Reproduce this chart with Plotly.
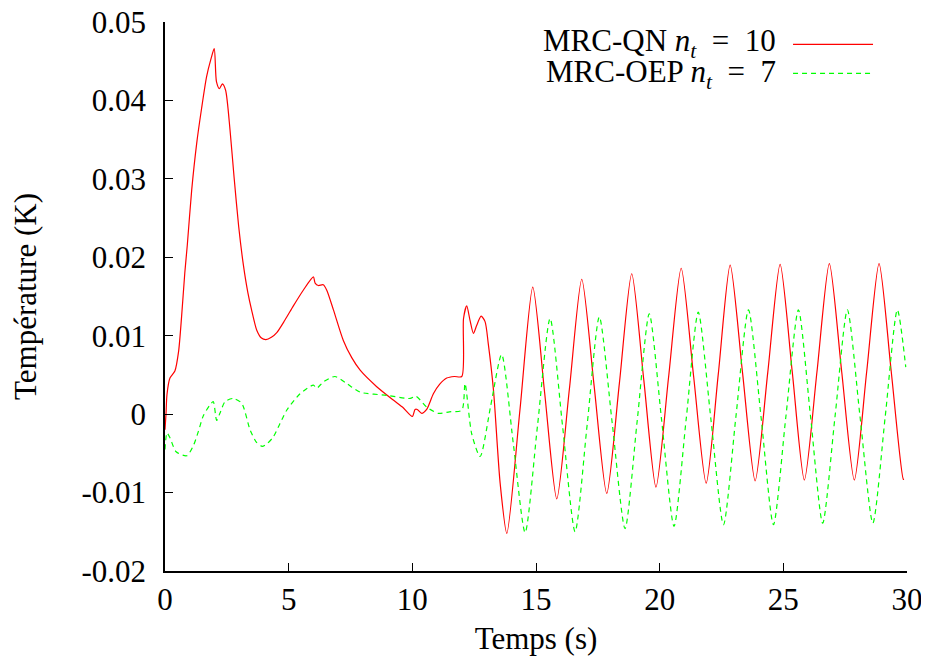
import plotly.graph_objects as go

# ---- data ----
t_qn = [0.0, 0.04, 0.08, 0.2, 0.4, 0.55, 0.67, 0.8, 0.9, 1.08, 1.28, 1.48, 1.68, 1.85, 1.99,
        2.08, 2.2, 2.32, 2.45, 2.63, 2.79, 2.98, 3.17, 3.35, 3.5, 3.71, 3.9, 4.08, 4.3, 4.52,
        4.85, 5.19, 5.59, 6.0, 6.07, 6.2, 6.4, 6.54, 6.81, 7.21, 7.55, 7.89, 8.56, 9.23, 9.6,
        10.0, 10.11, 10.2, 10.38, 10.58, 10.85, 11.1, 11.39, 11.7, 12.0, 12.07, 12.2, 12.33,
        12.47, 12.6, 12.78, 12.94, 13.07, 13.28, 13.55, 13.82,
        14.35, 14.87, 15.35, 15.84, 16.35, 16.85, 17.35, 17.86, 18.37, 18.87, 19.36, 19.85,
        20.36, 20.87, 21.37, 21.88, 22.37, 22.85, 23.35, 23.86, 24.37, 24.87, 25.36, 25.85,
        26.36, 26.86, 27.36, 27.87, 28.37, 28.87, 29.36, 29.85, 29.88]
v_qn = [-0.0020, 0.0000, 0.0025, 0.0046, 0.0055, 0.0080, 0.0124, 0.0180, 0.0215, 0.0286, 0.0345,
        0.0390, 0.0430, 0.0452, 0.0466,
        0.0424, 0.0415, 0.0421, 0.0413, 0.0362, 0.0303, 0.0239, 0.0190, 0.0155, 0.0133, 0.0107,
        0.0097, 0.0095, 0.0098, 0.0104,
        0.0120, 0.0138, 0.0158, 0.0175, 0.0167, 0.0164, 0.0165, 0.0158, 0.0133, 0.0094, 0.0072,
        0.0056, 0.0035, 0.0018, 0.0009,
        -0.0003, 0.0006, 0.0006, 0.0001, 0.0006, 0.0026, 0.0038, 0.0046, 0.0048, 0.0048, 0.0122,
        0.0138, 0.0120,
        0.0103, 0.0113, 0.0125, 0.0118, 0.0090, 0.0031, -0.0088, -0.0152,
        0.0005, 0.0162, 0.0027, -0.0108, 0.0032, 0.0172, 0.0036, -0.0101, 0.0039, 0.0179, 0.0043,
        -0.0093,
        0.0047, 0.0186, 0.0049, -0.0088, 0.0051, 0.0190, 0.0053, -0.0085, 0.0053, 0.0191, 0.0054,
        -0.0084,
        0.0054, 0.0192, 0.0054, -0.0084, 0.0054, 0.0192, 0.0055, -0.0083, -0.0083]

t_oep = [0.0, 0.08, 0.2, 0.45, 0.88, 1.15, 1.35, 1.55, 1.8, 1.95, 2.09, 2.22, 2.43, 2.76, 3.1,
         3.44, 3.7, 3.93, 4.15, 4.38, 4.65, 4.92, 5.46, 6.0, 6.13, 6.4, 6.87, 7.35, 7.89, 8.96,
         9.91, 10.14, 10.58, 11.05, 11.5, 12.0, 12.13, 12.4, 12.74, 13.17, 13.61,
         14.08, 14.56, 15.06, 15.57, 16.07, 16.58, 17.07, 17.56, 18.08, 18.6, 19.09, 19.58,
         20.08, 20.58, 21.07, 21.56, 22.07, 22.58, 23.08, 23.59, 24.1, 24.6, 25.1, 25.61,
         26.1, 26.59, 27.09, 27.59, 28.1, 28.62, 29.12, 29.61, 29.95]
v_oep = [-0.0045, -0.0024, -0.0030, -0.0048, -0.0053, -0.0040, -0.0022, -0.0002, 0.0011, 0.0016,
         -0.0008, 0.0001, 0.0016, 0.0020, 0.0014,
         -0.0020, -0.0036, -0.0041, -0.0037, -0.0029, -0.0012, 0.0005, 0.0026, 0.0037, 0.0033,
         0.0041, 0.0048, 0.0039, 0.0028, 0.0024,
         0.0020, 0.0023, 0.0009, 0.0001, 0.0003, 0.0005, 0.0039, -0.0025, -0.0054, 0.0011, 0.0076,
         -0.0037, -0.0151, -0.0015, 0.0122, -0.0014, -0.0150, -0.0013, 0.0124, -0.0011, -0.0146,
         -0.0009, 0.0128,
         -0.0008, -0.0143, -0.0007, 0.0130, -0.0006, -0.0141, -0.0004, 0.0133, -0.0004, -0.0141,
         -0.0004, 0.0133,
         -0.0003, -0.0139, -0.0003, 0.0133, -0.0003, -0.0139, -0.0003, 0.0133, 0.0060]

y_tickvals = [-0.02, -0.01, 0, 0.01, 0.02, 0.03, 0.04, 0.05]
y_ticktext = ["-0.02", "-0.01", "0", "0.01", "0.02", "0.03", "0.04", "0.05"]
x_tickvals = [0, 5, 10, 15, 20, 25, 30]
x_ticktext = ["0", "5", "10", "15", "20", "25", "30"]

label_qn = "MRC-QN <i>n</i><sub><i>t</i></sub>&nbsp;&nbsp;=&nbsp;&nbsp;10"
label_oep = "MRC-OEP <i>n</i><sub><i>t</i></sub>&nbsp;&nbsp;=&nbsp;&nbsp;7"

FONT = "Liberation Serif"
FS = 31

fig = go.Figure()
fig.add_trace(go.Scatter(x=t_qn, y=v_qn, mode="lines", name=label_qn,
                         line=dict(color="#ff0000", width=1.2, shape="spline", smoothing=0.7)))
fig.add_trace(go.Scatter(x=t_oep, y=v_oep, mode="lines", name=label_oep,
                         line=dict(color="#00ff00", width=1.2, dash="5px,4px",
                                   shape="spline", smoothing=0.7)))

fig.update_layout(
    width=921, height=654,
    margin=dict(l=157, r=22, t=14, b=91),
    paper_bgcolor="white", plot_bgcolor="white",
    showlegend=False,
    font=dict(family=FONT, size=FS, color="black"),
    xaxis=dict(range=[0, 30], tickvals=x_tickvals, ticktext=x_ticktext,
               ticks="inside", ticklen=8, tickwidth=1, tickcolor="black",
               showline=True, linecolor="black", linewidth=1.5, mirror=False,
               showgrid=False, zeroline=False, automargin=False,
               ticklabeloverflow="allow",
               title=dict(text="Temps (s)", standoff=11, font=dict(family=FONT, size=FS)),
               tickfont=dict(family=FONT, size=FS)),
    yaxis=dict(range=[-0.02, 0.05], tickvals=y_tickvals, ticktext=y_ticktext,
               ticks="inside", ticklen=8, tickwidth=1, tickcolor="black",
               showline=True, linecolor="black", linewidth=1.5, mirror=False,
               showgrid=False, zeroline=False, automargin=False,
               ticklabelstandoff=11, ticklabeloverflow="allow",
               title=dict(text="Température (K)", standoff=36, font=dict(family=FONT, size=FS)),
               tickfont=dict(family=FONT, size=FS)),
)

# legend drawn in gnuplot style: text right-aligned, sample line on the right
fig.add_annotation(xref="paper", yref="paper", x=0.826, y=0.962, text=label_qn,
                   showarrow=False, xanchor="right", yanchor="middle",
                   font=dict(family=FONT, size=FS))
fig.add_annotation(xref="paper", yref="paper", x=0.826, y=0.9055, text=label_oep,
                   showarrow=False, xanchor="right", yanchor="middle",
                   font=dict(family=FONT, size=FS))
fig.add_shape(type="line", xref="paper", yref="paper", x0=0.8464, x1=0.9542,
              y0=0.9594, y1=0.9594, line=dict(color="#ff0000", width=1.2))
fig.add_shape(type="line", xref="paper", yref="paper", x0=0.8464, x1=0.9542,
              y0=0.9066, y1=0.9066, line=dict(color="#00ff00", width=1.2, dash="5px,4px"))

fig.write_html("out.html")
